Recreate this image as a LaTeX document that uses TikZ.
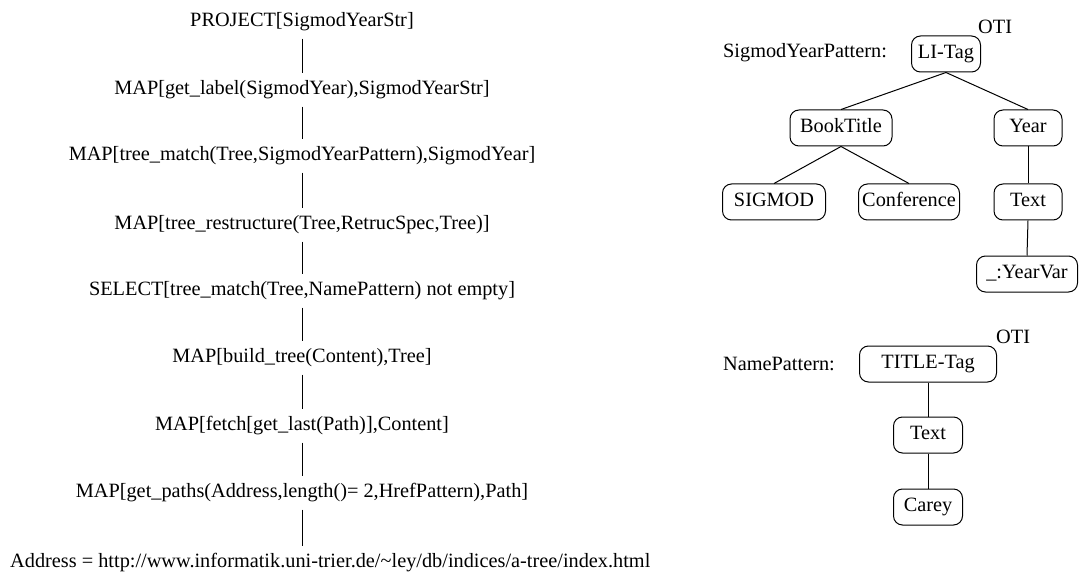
\documentclass[tikz,border=0pt]{standalone}
\usepackage{fontspec}
\setmainfont{Liberation Serif}
\newcommand{\bigtxt}{\fontsize{20.3}{24}\selectfont}
\tikzset{
  op/.style={font=\bigtxt, inner xsep=0pt, inner ysep=7pt, text height=14pt, text depth=5pt},
  lab/.style={font=\bigtxt, inner sep=0pt, anchor=west, text height=14pt, text depth=5pt},
  tbox/.style={draw, line width=1pt, rounded corners=9pt, font=\bigtxt, minimum height=36pt,
               inner xsep=2pt, inner ysep=0pt, text height=14pt, text depth=4.5pt},
  link/.style={line width=1pt},
}
\begin{document}
\begin{tikzpicture}[x=1pt,y=-1pt]
\useasboundingbox (0,0) rectangle (1079,572);

% query plan, read bottom-up
\node[op] (p0) at (302,22)  {PROJECT[SigmodYearStr]};
\node[op] (p1) at (302,90)  {MAP[get\_label(SigmodYear),SigmodYearStr]};
\node[op] (p2) at (302,156) {MAP[tree\_match(Tree,SigmodYearPattern),SigmodYear]};
\node[op] (p3) at (302,225) {MAP[tree\_restructure(Tree,RetrucSpec,Tree)]};
\node[op] (p4) at (302,291) {SELECT[tree\_match(Tree,NamePattern) not empty]};
\node[op] (p5) at (302,358) {MAP[build\_tree(Content),Tree]};
\node[op] (p6) at (302,426) {MAP[fetch[get\_last(Path)],Content]};
\node[op] (p7) at (302,493) {MAP[get\_paths(Address,length()= 2,HrefPattern),Path]};
\node[op, anchor=west] (addr) at (10,563) {Address = http://www.informatik.uni-trier.de/\textasciitilde ley/db/indices/a-tree/index.html};

\draw[link] (p0.south) -- (p1.north);
\draw[link] (p1.south) -- (p2.north);
\draw[link] (p2.south) -- (p3.north);
\draw[link] (p3.south) -- (p4.north);
\draw[link] (p4.south) -- (p5.north);
\draw[link] (p5.south) -- (p6.north);
\draw[link] (p6.south) -- (p7.north);
\draw[link] (p7.south) -- (p7.south |- addr.north);

% SigmodYearPattern tree
\node[lab] (syp) at (723,53) {SigmodYearPattern:};
\node[tbox, minimum width=69pt]  (li)   at (946,54)  {LI-Tag};
\node[lab] (oti1) at (978,29) {OTI};
\node[tbox, minimum width=102pt] (bt)   at (841,128) {BookTitle};
\node[tbox, minimum width=68pt]  (yr)   at (1028,128) {Year};
\node[tbox, minimum width=103pt] (sig)  at (774,202) {SIGMOD};
\node[tbox, minimum width=101pt] (conf) at (909,202) {Conference};
\node[tbox, minimum width=68pt]  (txt1) at (1028,202) {Text};
\node[tbox, minimum width=101pt] (yv)   at (1027,274) {\_:YearVar};

\draw[link] (li.south) -- (bt.north);
\draw[link] (li.south) -- (yr.north);
\draw[link] (bt.south) -- (sig.north);
\draw[link] (bt.south) -- (conf.north);
\draw[link] (yr.south) -- (txt1.north);
\draw[link] (txt1.south) -- (yv.north);

% NamePattern tree
\node[lab] (np) at (723,366) {NamePattern:};
\node[tbox, minimum width=137pt] (tt)   at (928,364) {TITLE-Tag};
\node[lab] (oti2) at (996,339) {OTI};
\node[tbox, minimum width=69pt]  (txt2) at (928,435) {Text};
\node[tbox, minimum width=69pt]  (car)  at (928,507) {Carey};

\draw[link] (tt.south) -- (txt2.north);
\draw[link] (txt2.south) -- (car.north);
\end{tikzpicture}
\end{document}
